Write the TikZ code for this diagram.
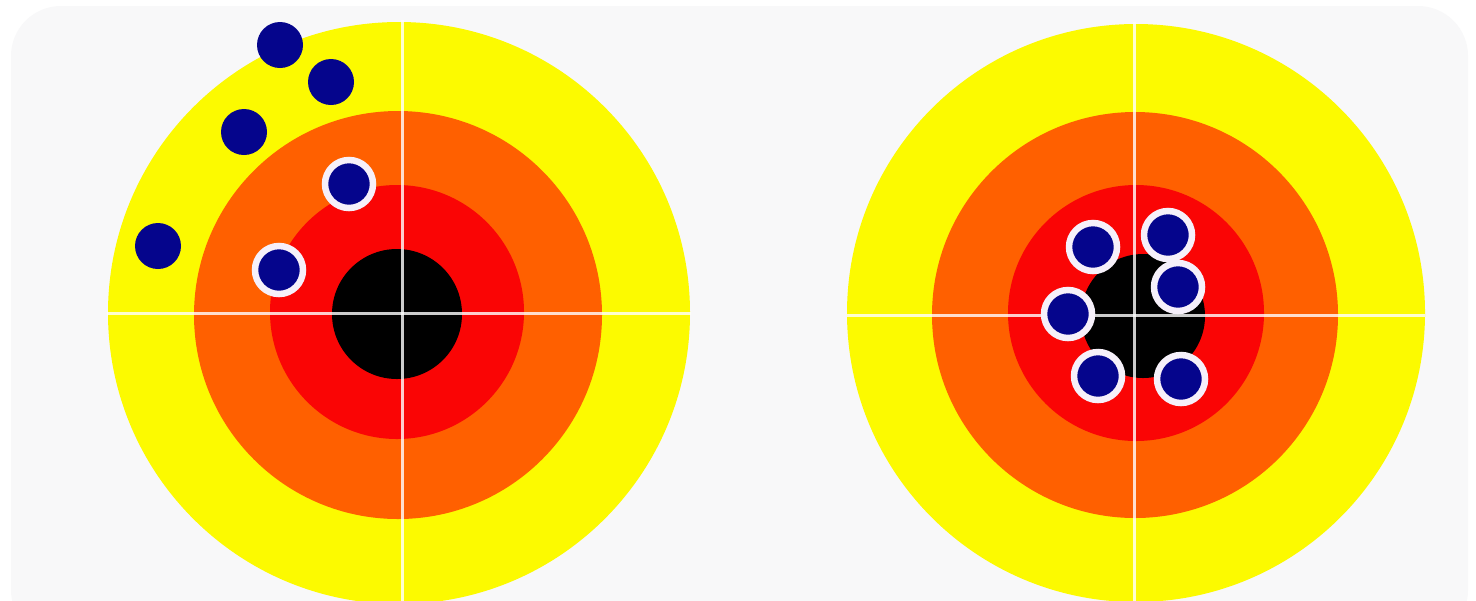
\documentclass[tikz,border=0pt]{standalone}
\definecolor{bggray}{RGB}{248,248,249}
\definecolor{tyellow}{RGB}{252,250,0}
\definecolor{torange}{RGB}{255,96,0}
\definecolor{tred}{RGB}{250,5,5}
\definecolor{tnavy}{RGB}{5,5,140}
\definecolor{tring}{RGB}{246,240,250}
\tikzset{
  hitdot/.style={fill=tnavy,draw=none},
  ringdot/.style={fill=tnavy,draw=tring,line width=0.13cm},
  cross/.style={draw=white,opacity=0.8,line width=0.06cm}
}
\begin{document}
\begin{tikzpicture}[x=0.02cm,y=-0.02cm]
\useasboundingbox (0,0) rectangle (1476,600);
\fill[white] (0,0) rectangle (1476,600);
\begin{scope}
\clip (0,0) rectangle (1476,600);
\fill[bggray,rounded corners=1cm] (11,6) rectangle (1468,640);
% left target
\fill[tyellow] (399,313) circle (291);
\fill[torange] (398,315) circle (204);
\fill[tred] (397,312) circle (127);
\fill[black] (397,314) circle (65);
\draw[cross] (107,313) -- (691,313);
\draw[cross] (402,20) -- (402,606);
% right target
\fill[tyellow] (1136,313) circle (289);
\fill[torange] (1135,315) circle (203);
\fill[tred] (1136,313) circle (128);
\fill[black] (1143,316) circle (62);
\draw[cross] (847,315) -- (1425,315);
\draw[cross] (1134,22) -- (1134,606);
% left dots
\fill[hitdot] (280,45) circle (23);
\fill[hitdot] (331,82) circle (23);
\fill[hitdot] (244,132) circle (23);
\fill[hitdot] (158,246) circle (23);
\filldraw[ringdot] (349,184) circle (24);
\filldraw[ringdot] (279,270) circle (24);
% right dots
\filldraw[ringdot] (1093,247) circle (24);
\filldraw[ringdot] (1168,235) circle (24);
\filldraw[ringdot] (1178,287) circle (24);
\filldraw[ringdot] (1068,314) circle (24);
\filldraw[ringdot] (1098,376) circle (24);
\filldraw[ringdot] (1181,379) circle (24);
\end{scope}
\end{tikzpicture}
\end{document}
